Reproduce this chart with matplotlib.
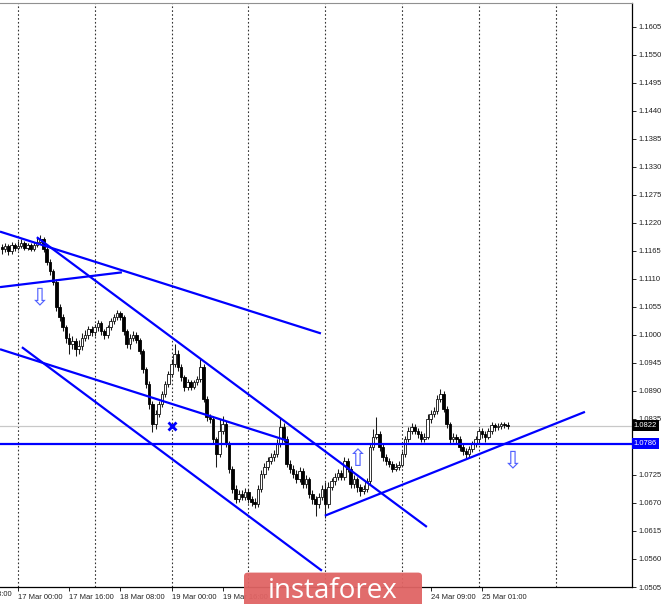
import numpy as np
import matplotlib.pyplot as plt
import matplotlib.transforms as mtransforms
from matplotlib.patches import FancyBboxPatch

# === H1 bars, index 0 = 17 Mar 00:00 ===
bars = np.arange(-5, 154)

opens = [1.1172, 1.1168, 1.1174, 1.1164, 1.1176, 1.1170, 1.1174, 1.1180, 1.1170, 1.1176, 1.1168, 1.1176, 1.1182,
         1.1188, 1.1168, 1.1144, 1.1125, 1.1105, 1.1054, 1.1035, 1.1015, 1.0995, 1.0982, 1.0988, 1.0972,
         1.0978, 1.0995, 1.0999, 1.1011, 1.1005, 1.1015, 1.1023, 1.1007, 1.0999, 1.1015, 1.1027, 1.1035,
         1.1043, 1.1035, 1.1007, 1.0982, 1.0995, 1.0999, 1.0991, 1.0968, 1.0933, 1.0903, 1.0864, 1.0825,
         1.0845, 1.0864, 1.0884, 1.0903, 1.0923, 1.0943, 1.0962, 1.0937, 1.0917, 1.0898, 1.0907, 1.0898,
         1.0907, 1.0913, 1.0937, 1.0874, 1.0839, 1.0835, 1.0796, 1.0766, 1.0811, 1.0825, 1.0786, 1.0737,
         1.0698, 1.0678, 1.0688, 1.0682, 1.0692, 1.0678, 1.0672, 1.0668, 1.0698, 1.0727, 1.0741, 1.0752,
         1.0760, 1.0766, 1.0786, 1.0819, 1.0796, 1.0747, 1.0737, 1.0727, 1.0717, 1.0733, 1.0707, 1.0717,
         1.0688, 1.0678, 1.0668, 1.0682, 1.0698, 1.0668, 1.0702, 1.0713, 1.0721, 1.0729, 1.0721, 1.0752,
         1.0737, 1.0707, 1.0717, 1.0702, 1.0694, 1.0698, 1.0713, 1.0780, 1.0800, 1.0805, 1.0780, 1.0760,
         1.0752, 1.0747, 1.0737, 1.0741, 1.0745, 1.0766, 1.0796, 1.0811, 1.0819, 1.0811, 1.0805, 1.0796,
         1.0800, 1.0835, 1.0845, 1.0850, 1.0874, 1.0884, 1.0854, 1.0825, 1.0796, 1.0800, 1.0796, 1.0780,
         1.0772, 1.0766, 1.0776, 1.0786, 1.0796, 1.0811, 1.0805, 1.0800, 1.0811, 1.0823, 1.0819, 1.0821,
         1.0825, 1.0823]

highs = [1.1178, 1.1180, 1.1178, 1.1182, 1.1180, 1.1184, 1.1188, 1.1184, 1.1180, 1.1180, 1.1182, 1.1190, 1.1196,
         1.1192, 1.1172, 1.1150, 1.1130, 1.1110, 1.1060, 1.1042, 1.1020, 1.1003, 1.0998, 1.0995, 1.0990,
         1.1003, 1.1010, 1.1018, 1.1018, 1.1022, 1.1030, 1.1027, 1.1012, 1.1020, 1.1033, 1.1042, 1.1050,
         1.1048, 1.1040, 1.1012, 1.1001, 1.1008, 1.1005, 1.0995, 1.0972, 1.0938, 1.0910, 1.0870, 1.0852,
         1.0870, 1.0890, 1.0910, 1.0930, 1.0952, 1.0982, 1.0970, 1.0942, 1.0922, 1.0914, 1.0912, 1.0912,
         1.0920, 1.0952, 1.0942, 1.0880, 1.0845, 1.0840, 1.0800, 1.0835, 1.0840, 1.0832, 1.0792, 1.0742,
         1.0705, 1.0695, 1.0696, 1.0700, 1.0698, 1.0684, 1.0680, 1.0705, 1.0735, 1.0748, 1.0760, 1.0768,
         1.0775, 1.0795, 1.0839, 1.0828, 1.0802, 1.0755, 1.0745, 1.0735, 1.0740, 1.0738, 1.0725, 1.0722,
         1.0695, 1.0684, 1.0690, 1.0705, 1.0712, 1.0712, 1.0720, 1.0728, 1.0736, 1.0735, 1.0760, 1.0758,
         1.0742, 1.0724, 1.0722, 1.0708, 1.0705, 1.0720, 1.0788, 1.0815, 1.0839, 1.0812, 1.0785, 1.0766,
         1.0758, 1.0752, 1.0748, 1.0752, 1.0772, 1.0802, 1.0820, 1.0828, 1.0825, 1.0818, 1.0812, 1.0808,
         1.0845, 1.0852, 1.0858, 1.0882, 1.0894, 1.0890, 1.0860, 1.0830, 1.0808, 1.0805, 1.0802, 1.0785,
         1.0778, 1.0782, 1.0792, 1.0802, 1.0818, 1.0818, 1.0812, 1.0818, 1.0830, 1.0828, 1.0828, 1.0830,
         1.0830, 1.0830]

lows = [1.1160, 1.1162, 1.1158, 1.1160, 1.1164, 1.1166, 1.1170, 1.1166, 1.1166, 1.1164, 1.1164, 1.1172, 1.1178,
        1.1162, 1.1138, 1.1118, 1.1098, 1.1048, 1.1028, 1.1008, 1.0985, 1.0962, 1.0972, 1.0958, 1.0962,
        1.0970, 1.0988, 1.0992, 1.0998, 1.0998, 1.1008, 1.0999, 1.0992, 1.0995, 1.1010, 1.1022, 1.1030,
        1.1030, 1.1000, 1.0975, 1.0972, 1.0988, 1.0985, 1.0962, 1.0925, 1.0895, 1.0855, 1.0810, 1.0815,
        1.0838, 1.0858, 1.0878, 1.0898, 1.0918, 1.0938, 1.0930, 1.0910, 1.0890, 1.0892, 1.0892, 1.0894,
        1.0902, 1.0908, 1.0868, 1.0832, 1.0828, 1.0788, 1.0740, 1.0760, 1.0805, 1.0780, 1.0728, 1.0690,
        1.0670, 1.0672, 1.0675, 1.0676, 1.0670, 1.0664, 1.0660, 1.0662, 1.0692, 1.0720, 1.0735, 1.0746,
        1.0752, 1.0760, 1.0780, 1.0790, 1.0740, 1.0728, 1.0720, 1.0710, 1.0712, 1.0700, 1.0700, 1.0680,
        1.0668, 1.0645, 1.0660, 1.0676, 1.0640, 1.0660, 1.0695, 1.0706, 1.0715, 1.0715, 1.0716, 1.0730,
        1.0700, 1.0700, 1.0692, 1.0684, 1.0688, 1.0692, 1.0708, 1.0775, 1.0795, 1.0772, 1.0752, 1.0745,
        1.0740, 1.0730, 1.0732, 1.0735, 1.0740, 1.0760, 1.0790, 1.0805, 1.0805, 1.0798, 1.0790, 1.0790,
        1.0795, 1.0828, 1.0838, 1.0845, 1.0868, 1.0848, 1.0818, 1.0788, 1.0790, 1.0788, 1.0772, 1.0765,
        1.0758, 1.0760, 1.0770, 1.0780, 1.0790, 1.0798, 1.0790, 1.0795, 1.0805, 1.0812, 1.0814, 1.0816,
        1.0818, 1.0815]

closes = [1.1168, 1.1174, 1.1164, 1.1176, 1.1170, 1.1174, 1.1180, 1.1170, 1.1176, 1.1168, 1.1176, 1.1182, 1.1188,
          1.1168, 1.1144, 1.1125, 1.1105, 1.1054, 1.1035, 1.1015, 1.0995, 1.0982, 1.0988, 1.0972, 1.0978,
          1.0995, 1.0999, 1.1011, 1.1005, 1.1015, 1.1023, 1.1007, 1.0999, 1.1015, 1.1027, 1.1035, 1.1043,
          1.1035, 1.1007, 1.0982, 1.0995, 1.0999, 1.0991, 1.0968, 1.0933, 1.0903, 1.0864, 1.0825, 1.0845,
          1.0864, 1.0884, 1.0903, 1.0923, 1.0943, 1.0962, 1.0937, 1.0917, 1.0898, 1.0907, 1.0898, 1.0907,
          1.0913, 1.0937, 1.0874, 1.0839, 1.0835, 1.0796, 1.0766, 1.0811, 1.0825, 1.0786, 1.0737, 1.0698,
          1.0678, 1.0688, 1.0682, 1.0692, 1.0678, 1.0672, 1.0668, 1.0698, 1.0727, 1.0741, 1.0752, 1.0760,
          1.0766, 1.0786, 1.0819, 1.0796, 1.0747, 1.0737, 1.0727, 1.0717, 1.0733, 1.0707, 1.0717, 1.0688,
          1.0678, 1.0668, 1.0682, 1.0698, 1.0668, 1.0702, 1.0713, 1.0721, 1.0729, 1.0721, 1.0752, 1.0737,
          1.0707, 1.0717, 1.0702, 1.0694, 1.0698, 1.0713, 1.0780, 1.0800, 1.0805, 1.0780, 1.0760, 1.0752,
          1.0747, 1.0737, 1.0741, 1.0745, 1.0766, 1.0796, 1.0811, 1.0819, 1.0811, 1.0805, 1.0796, 1.0800,
          1.0835, 1.0845, 1.0850, 1.0874, 1.0884, 1.0854, 1.0825, 1.0796, 1.0800, 1.0796, 1.0780, 1.0772,
          1.0766, 1.0776, 1.0786, 1.0796, 1.0811, 1.0805, 1.0800, 1.0811, 1.0823, 1.0819, 1.0821, 1.0825,
          1.0823, 1.0822]

# trend lines: (bar0, price0, bar1, price1)
trend_x0 = [-5.6, -5.6, 5.9, -5.6, 1.25, 95.9]
trend_p0 = [1.1203, 1.1094, 1.1192, 1.0972, 1.0976, 1.0645]
trend_x1 = [94.7, 32.5, 127.8, 84.4, 95.0, 177.2]
trend_p1 = [1.1003, 1.1123, 1.0623, 1.0792, 1.0537, 1.0849]

level_price = 1.0786
last_price = 1.0822

# signal arrows and cross
down_arrows_x = [6.9, 154.7]
down_arrows_p = [1.1074, 1.0754]
up_arrows_x = [106.3]
up_arrows_p = [1.0756]
cross_x = [48.1]
cross_p = [1.0821]

separators = [0, 24, 48, 72, 96, 120, 144, 168]
xtick_pos = [0, 16, 32, 48, 64, 129, 145]
xtick_lab = ['17 Mar 00:00', '17 Mar 16:00', '18 Mar 08:00', '19 Mar 00:00',
             '19 Mar 16:00', '24 Mar 09:00', '25 Mar 01:00']
first_label_pos = -16
first_label = '16 Mar 08:00'
yticks = np.round(np.arange(1.0505, 1.1606, 0.0055), 4)

# === Figure ===
fig = plt.figure(figsize=(6.65, 6.04), dpi=100)
ax = fig.add_axes([0, 17 / 604, 632 / 665, 584 / 604])

for s in separators:
    ax.axvline(s, color='#333333', lw=0.8, ls=(0, (1.5, 2.0)), zorder=1)

ax.axhline(last_price, color='#c8c8c8', lw=0.9, zorder=1)

# candles
for x, o, h, l, c in zip(bars, opens, highs, lows, closes):
    ax.vlines(x, l, h, color='#1a1a1a', lw=0.75, zorder=3)
    bottom = min(o, c)
    height = max(abs(c - o), 0.00008)
    if c >= o:
        ax.bar(x, height, bottom=bottom, width=0.8, color='white', edgecolor='#111111', lw=0.6, zorder=4)
    else:
        ax.bar(x, height, bottom=bottom, width=0.8, color='black', edgecolor='black', lw=0.6, zorder=4)

for x0, p0, x1, p1 in zip(trend_x0, trend_p0, trend_x1, trend_p1):
    ax.plot([x0, x1], [p0, p1], color='#0000ff', lw=1.6, zorder=5, solid_capstyle='butt')

ax.axhline(level_price, color='#0000ff', lw=1.6, zorder=5)

for x, p in zip(down_arrows_x, down_arrows_p):
    ax.text(x, p, '\u21e9', color='#5060ff', fontsize=17, ha='center', va='center', zorder=6,
            family='DejaVu Sans')
for x, p in zip(up_arrows_x, up_arrows_p):
    ax.text(x, p, '\u21e7', color='#5060ff', fontsize=17, ha='center', va='center', zorder=6,
            family='DejaVu Sans')
ax.plot(cross_x, cross_p, 'x', color='#0000ff', ms=6, mew=2, zorder=6)

# axes styling
ax.spines['left'].set_visible(False)
ax.spines['top'].set_color('#909090')
ax.spines['right'].set_color('black')
ax.spines['bottom'].set_color('black')
ax.spines['right'].set_linewidth(0.9)
ax.spines['bottom'].set_linewidth(0.9)

ax.yaxis.tick_right()
ax.set_yticks(yticks)
ax.set_yticklabels(['' if abs(v - 1.0780) < 1e-6 else f'{v:.4f}' for v in yticks],
                   fontsize=5.5, family='Liberation Sans', color='#222222')
ax.tick_params(axis='y', length=3, width=0.6, pad=2)

ax.set_xticks(xtick_pos)
ax.set_xticklabels(xtick_lab, fontsize=5.5, family='Liberation Sans', color='#222222', ha='left')
ax.tick_params(axis='x', length=3, width=0.6, pad=2)

# limits after ticks so they are not widened
ax.set_xlim(-5.6, 191.9)
ax.set_ylim(1.0505, 1.1652)

# label of the bar left of the view, cut by the picture edge
xtrans = mtransforms.blended_transform_factory(ax.transData, ax.transAxes)
ax.text(first_label_pos, -0.0075, first_label, transform=xtrans, fontsize=5.5, family='Liberation Sans',
        color='#222222', ha='left', va='top', clip_on=False)

# price tags on the right scale
trans = mtransforms.blended_transform_factory(ax.transAxes, ax.transData)
ax.text(1.003, last_price, '1.0822', transform=trans, fontsize=5.5, family='Liberation Sans',
        color='white', va='center', ha='left', zorder=10, clip_on=False,
        bbox=dict(facecolor='black', edgecolor='none', pad=1.5))
ax.text(1.003, level_price, '1.0786', transform=trans, fontsize=5.5, family='Liberation Sans',
        color='white', va='center', ha='left', zorder=10, clip_on=False,
        bbox=dict(facecolor='#0000ff', edgecolor='none', pad=1.5))

# watermark logo
logo = FancyBboxPatch((244 / 665, -0.01), 178 / 665, 0.062, boxstyle='round,pad=0,rounding_size=0.006',
                      transform=fig.transFigure, facecolor='#e06464', edgecolor='none', alpha=0.95,
                      zorder=20)
fig.patches.append(logo)
fig.text(333 / 665, 0.022, 'instaforex', color='white', fontsize=20, family='Open Sans',
         ha='center', va='center', zorder=21)

fig.savefig('out.png', dpi=100)
